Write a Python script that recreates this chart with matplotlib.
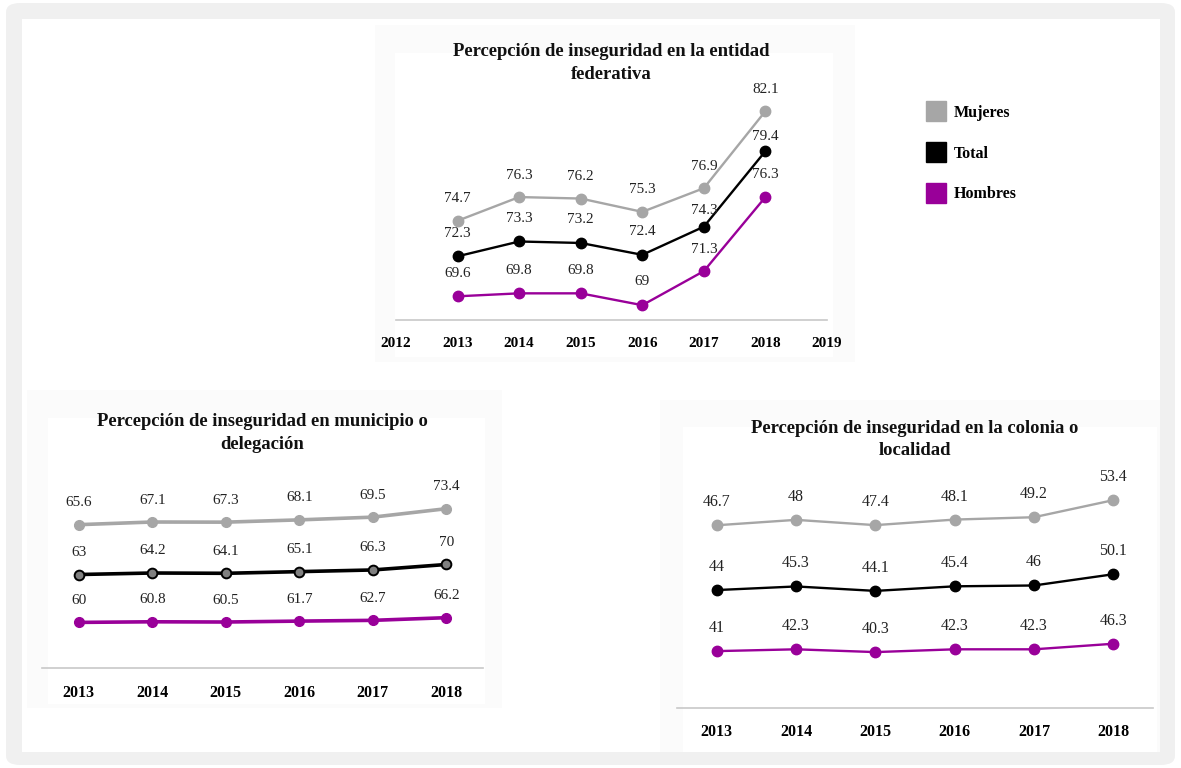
import numpy as np
import matplotlib
matplotlib.use("Agg")
import matplotlib.pyplot as plt
from matplotlib.patches import FancyBboxPatch, Rectangle
from matplotlib.lines import Line2D

plt.rcParams['font.family'] = ['Liberation Serif', 'DejaVu Serif']

# datos
years = [2013, 2014, 2015, 2016, 2017, 2018]
series = ['Mujeres', 'Total', 'Hombres']

entidad_mujeres = [74.7, 76.3, 76.2, 75.3, 76.9, 82.1]
entidad_total = [72.3, 73.3, 73.2, 72.4, 74.3, 79.4]
entidad_hombres = [69.6, 69.8, 69.8, 69, 71.3, 76.3]

municipio_mujeres = [65.6, 67.1, 67.3, 68.1, 69.5, 73.4]
municipio_total = [63, 64.2, 64.1, 65.1, 66.3, 70]
municipio_hombres = [60, 60.8, 60.5, 61.7, 62.7, 66.2]

colonia_mujeres = [46.7, 48, 47.4, 48.1, 49.2, 53.4]
colonia_total = [44, 45.3, 44.1, 45.4, 46, 50.1]
colonia_hombres = [41, 42.3, 40.3, 42.3, 42.3, 46.3]

GRAY = '#a6a6a6'
BLACK = '#000000'
PURPLE = '#990099'
AXIS = '#c8c8c8'

W, H = 1181, 768
fig = plt.figure(figsize=(W / 100, H / 100), dpi=100)
fig.patch.set_facecolor('white')


def box(x0, y0, x1, y1, color, z):
    fig.add_artist(Rectangle((x0 / W, 1 - y1 / H), (x1 - x0) / W, (y1 - y0) / H,
                             transform=fig.transFigure, facecolor=color,
                             edgecolor='none', zorder=z))


# marco exterior
fig.add_artist(FancyBboxPatch((6 / W, 3 / H), 1169 / W, 762 / H,
                              boxstyle='round,pad=0,rounding_size=0.012',
                              transform=fig.transFigure, facecolor='#f0f0f0',
                              edgecolor='none', zorder=-3))
box(22, 19, 1160, 752, 'white', -2)
# sombras tenues de cada panel
for outer, inner in [((375, 25, 855, 362), (395, 53, 833, 357)),
                     ((27, 390, 502, 708), (48, 418, 485, 704)),
                     ((660, 400, 1160, 752), (683, 427, 1157, 752))]:
    box(*outer, '#fbfbfb', -1.5)
    box(*inner, 'white', -1)


def rect(x0, y0, x1, y1):
    return [x0 / W, 1 - y1 / H, (x1 - x0) / W, (y1 - y0) / H]


def style_axes(ax, xlim, ylim, ticks, tick_size, pad):
    ax.set_xlim(*xlim)
    ax.set_ylim(*ylim)
    ax.patch.set_alpha(0)
    for s in ['top', 'right', 'left']:
        ax.spines[s].set_visible(False)
    ax.spines['bottom'].set_color(AXIS)
    ax.spines['bottom'].set_linewidth(1.2)
    ax.set_yticks([])
    ax.set_xticks(ticks)
    ax.set_xticklabels([str(t) for t in ticks], fontweight='bold', fontsize=tick_size)
    ax.tick_params(axis='x', length=0, pad=pad)


def labels(ax, xs, ys, vals, offsets, size):
    for x, y, v, off in zip(xs, ys, vals, offsets):
        ax.annotate(f"{v:g}", (x, y), xytext=(0, off), textcoords='offset pixels',
                    ha='center', va='center', fontsize=size, color='#222222')


TITLE = dict(fontweight='bold', fontsize=13.4, linespacing=1.45, color='#111111')

# grafica 1: entidad federativa
ax1 = fig.add_axes(rect(396, 83, 827, 320))
style_axes(ax1, (2012, 2019), (68, 84), list(range(2012, 2020)), 11, 12)
for vals, col in [(entidad_mujeres, GRAY), (entidad_total, BLACK), (entidad_hombres, PURPLE)]:
    ax1.plot(years, vals, color=col, lw=1.7, marker='o', ms=7.5, zorder=3)
labels(ax1, years, entidad_mujeres, entidad_mujeres, [22] * 6, 11)
labels(ax1, years, entidad_total, entidad_total, [23, 23, 23, 23, 16, 15], 11)
labels(ax1, years, entidad_hombres, entidad_hombres, [23, 23, 23, 24, 22, 23], 11)
ax1.set_title('Percepción de inseguridad en la entidad\nfederativa', pad=2.5, **TITLE)

# grafica 2: municipio o delegacion (lineas apiladas)
ax2 = fig.add_axes(rect(42, 478, 483, 668))
style_axes(ax2, (2012.5, 2018.5), (0, 250), years, 11.5, 12)
stack2 = np.cumsum([municipio_hombres, municipio_total, municipio_mujeres], axis=0)
ax2.plot(years, stack2[2], color=GRAY, lw=2.6, marker='o', ms=7, zorder=3)
ax2.plot(years, stack2[1], color=BLACK, lw=2.6, marker='o', ms=7, mfc='#808080',
         mec=BLACK, mew=1.4, zorder=3)
ax2.plot(years, stack2[0], color=PURPLE, lw=2.6, marker='o', ms=7, zorder=3)
labels(ax2, years, stack2[2], municipio_mujeres, [22] * 6, 11)
labels(ax2, years, stack2[1], municipio_total, [22] * 6, 11)
labels(ax2, years, stack2[0], municipio_hombres, [22] * 6, 11)
ax2.set_title('Percepción de inseguridad en municipio o\ndelegación', pad=21, **TITLE)

# grafica 3: colonia o localidad (lineas apiladas)
ax3 = fig.add_axes(rect(677, 486, 1153, 708))
style_axes(ax3, (2012.5, 2018.5), (0, 160), years, 11.5, 11.5)
stack3 = np.cumsum([colonia_hombres, colonia_total, colonia_mujeres], axis=0)
ax3.plot(years, stack3[2], color=GRAY, lw=1.7, marker='o', ms=7.5, zorder=3)
ax3.plot(years, stack3[1], color=BLACK, lw=1.7, marker='o', ms=7.5, zorder=3)
ax3.plot(years, stack3[0], color=PURPLE, lw=1.7, marker='o', ms=7.5, zorder=3)
labels(ax3, years, stack3[2], colonia_mujeres, [23] * 6, 11.5)
labels(ax3, years, stack3[1], colonia_total, [23] * 6, 11.5)
labels(ax3, years, stack3[0], colonia_hombres, [23] * 6, 11.5)
ax3.set_title('Percepción de inseguridad en la colonia o\nlocalidad', pad=22, **TITLE)

# leyenda
handles = [Line2D([], [], ls='', marker='s', ms=15, color=c) for c in (GRAY, BLACK, PURPLE)]
fig.legend(handles, series, loc='upper left', bbox_to_anchor=(920 / W, 1 - 97 / H),
           frameon=False, borderpad=0, handlelength=1.0, handletextpad=0.6,
           labelspacing=1.55, prop={'weight': 'bold', 'size': 11.5})

fig.savefig('out.png', dpi=100)
